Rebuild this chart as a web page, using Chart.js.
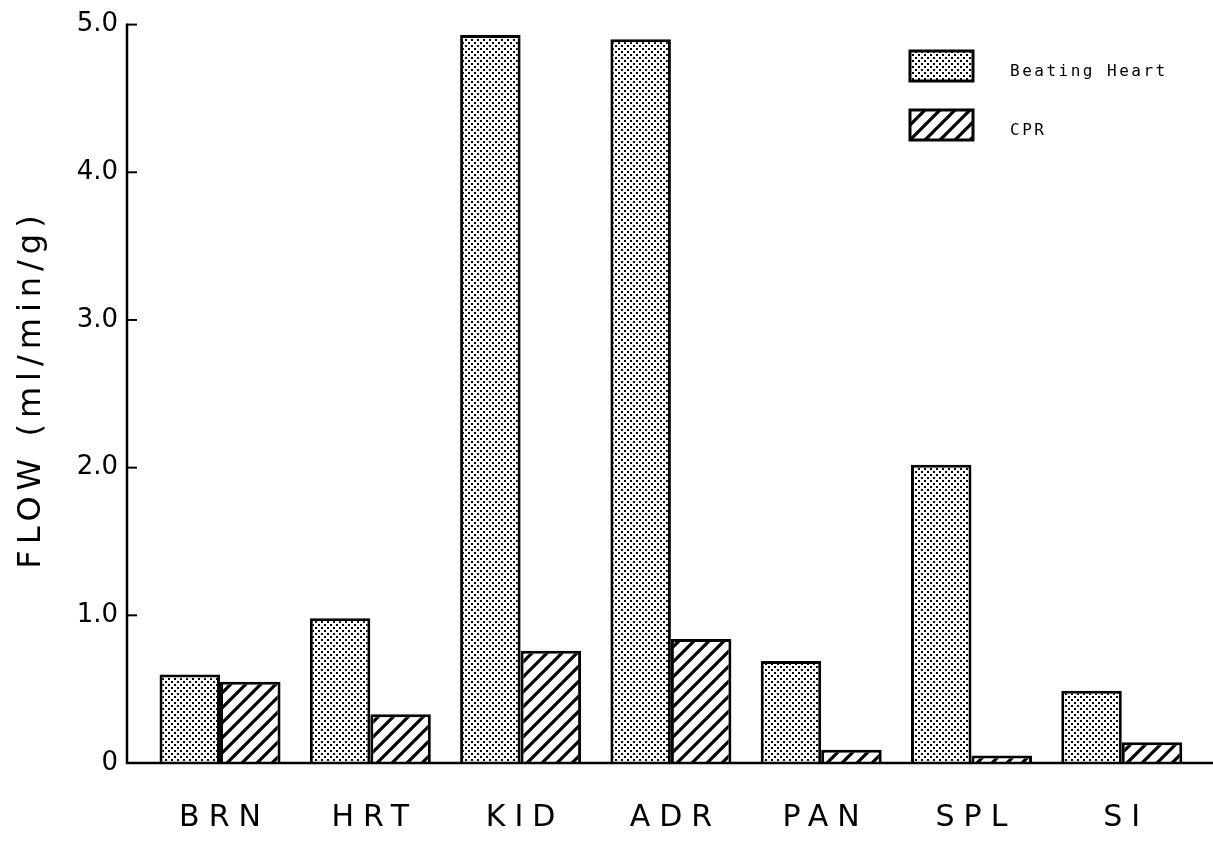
<!DOCTYPE html>
<html>
<head>
<meta charset="utf-8">
<script src="https://cdn.jsdelivr.net/npm/chart.js@4/dist/chart.umd.min.js"></script>
<style>
  html, body { margin: 0; padding: 0; background: #fff; }
  #wrap { position: relative; width: 1213px; height: 842px; }
</style>
</head>
<body>
<div id="wrap"><canvas id="chart-fluxo"></canvas></div>
<script>
var categorias = ['BRN', 'HRT', 'KID', 'ADR', 'PAN', 'SPL', 'SI'];
var beatingHeart = [0.60, 0.98, 4.93, 4.90, 0.69, 2.02, 0.49];
var cpr = [0.55, 0.33, 0.76, 0.84, 0.09, 0.05, 0.14];
var yTickLabels = ['0', '1.0', '2.0', '3.0', '4.0', '5.0'];
var tituloY = 'FLOW (ml/min/g)';

// pattern of dots (Beating Heart)
function padraoPontos() {
    var c = document.createElement('canvas');
    c.width = 6; c.height = 6;
    var g = c.getContext('2d');
    g.fillStyle = '#fff';
    g.fillRect(0, 0, 6, 6);
    g.fillStyle = '#000';
    g.fillRect(0, 0, 2, 2);
    g.fillRect(3, 3, 2, 2);
    return g.createPattern(c, 'repeat');
}

// diagonal hatching (CPR)
function padraoHachura() {
    var s = 15;
    var c = document.createElement('canvas');
    c.width = s; c.height = s;
    var g = c.getContext('2d');
    g.fillStyle = '#fff';
    g.fillRect(0, 0, s, s);
    g.strokeStyle = '#000';
    g.lineWidth = 3.2;
    g.beginPath();
    g.moveTo(-s / 2, s / 2); g.lineTo(s / 2, -s / 2);
    g.moveTo(0, s); g.lineTo(s, 0);
    g.moveTo(s / 2, s * 1.5); g.lineTo(s * 1.5, s / 2);
    g.stroke();
    return g.createPattern(c, 'repeat');
}

function pontosXY(valores) {
    return valores.map(function (v, i) { return { x: i, y: v }; });
}

function textoEspacado(ctx, txt, cx, cy, ls) {
    ctx.letterSpacing = ls + 'px';
    var w = ctx.measureText(txt).width - ls;
    ctx.textAlign = 'left';
    ctx.fillText(txt, cx - w / 2, cy);
}

var eixosPlugin = {
    id: 'eixos',
    afterDatasetsDraw: function (chart) {
        var ctx = chart.ctx, area = chart.chartArea, sy = chart.scales.y, sx = chart.scales.x;
        ctx.save();
        ctx.strokeStyle = '#000';
        ctx.lineWidth = 2.5;
        ctx.beginPath();
        ctx.moveTo(area.left, sy.getPixelForValue(5) - 1);
        ctx.lineTo(area.left, sy.getPixelForValue(0));
        ctx.lineTo(chart.width, sy.getPixelForValue(0));
        ctx.stroke();
        // inward ticks
        ctx.lineWidth = 2;
        for (var v = 1; v <= 5; v++) {
            var py = sy.getPixelForValue(v);
            ctx.beginPath();
            ctx.moveTo(area.left, py);
            ctx.lineTo(area.left + 10, py);
            ctx.stroke();
        }
        // category labels
        ctx.fillStyle = '#000';
        ctx.font = '30px "DejaVu Sans"';
        ctx.textBaseline = 'middle';
        categorias.forEach(function (c, i) {
            textoEspacado(ctx, c, sx.getPixelForValue(i), 818, 9);
        });
        // y title
        ctx.save();
        ctx.translate(32, 392);
        ctx.rotate(-Math.PI / 2);
        ctx.font = '32px "DejaVu Sans"';
        textoEspacado(ctx, tituloY, 0, 0, 6);
        ctx.restore();
        // legend
        ctx.letterSpacing = '2.5px';
        ctx.font = '16px "DejaVu Sans Mono"';
        ctx.textAlign = 'left';
        chart.data.datasets.forEach(function (ds, i) {
            var top = 51 + i * 59;
            ctx.fillStyle = ds.backgroundColor;
            ctx.fillRect(910, top, 63, 30);
            ctx.lineWidth = 3;
            ctx.strokeRect(910, top, 63, 30);
            ctx.fillStyle = '#000';
            ctx.fillText(ds.label, 1010, top + 21);
        });
        ctx.restore();
    }
};

var config = {
    type: 'bar',
    data: {
        datasets: [{
            label: 'Beating Heart',
            data: pontosXY(beatingHeart),
            backgroundColor: padraoPontos(),
            borderColor: '#000',
            borderWidth: 3
        }, {
            label: 'CPR',
            data: pontosXY(cpr),
            backgroundColor: padraoHachura(),
            borderColor: '#000',
            borderWidth: 3
        }]
    },
    options: {
        responsive: true,
        maintainAspectRatio: false,
        animation: false,
        events: [],
        layout: { padding: { top: 22, right: 0, bottom: 0, left: 0 } },
        categoryPercentage: 0.805,
        barPercentage: 1.0,
        plugins: {
            legend: { display: false },
            tooltip: { enabled: false }
        },
        scales: {
            x: {
                type: 'linear',
                min: -0.619,
                max: 6.607,
                offset: false,
                grid: { display: false, drawTicks: false },
                border: { display: false },
                ticks: { display: false, stepSize: 1, includeBounds: false },
                afterFit: function (s) { s.height = 79; }
            },
            y: {
                min: 0,
                max: 5,
                grid: { display: false, drawTicks: false },
                border: { display: false },
                ticks: {
                    stepSize: 1,
                    padding: 9,
                    color: '#000',
                    font: { family: '"DejaVu Sans"', size: 26 },
                    callback: function (v) { return yTickLabels[Math.round(v)]; }
                },
                afterFit: function (s) { s.width = 127; }
            }
        }
    },
    plugins: [eixosPlugin]
};

new Chart(document.getElementById('chart-fluxo'), config);
</script>
</body>
</html>
